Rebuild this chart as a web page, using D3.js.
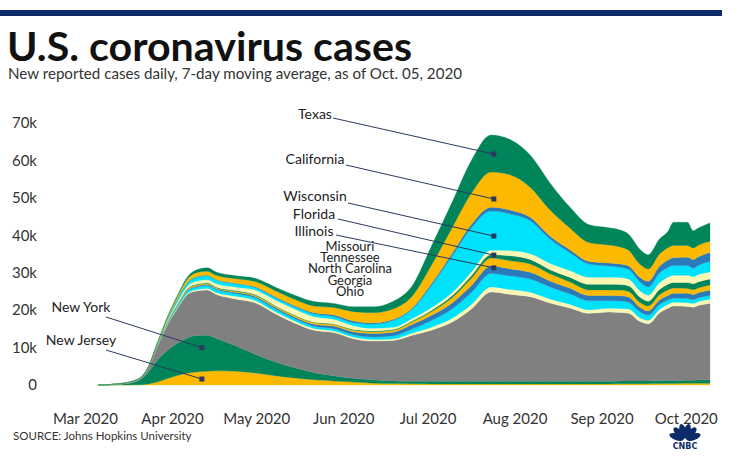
<!DOCTYPE html>
<html><head><meta charset="utf-8">
<script src="https://cdn.jsdelivr.net/npm/d3@7"></script>
<style>
body{margin:0;background:#fff;}
svg{display:block;font-family:Lato,"Open Sans",sans-serif;}
</style></head><body>
<svg id="chart" width="740" height="475"></svg>
<script>
// ---- data (7-day average of new cases, thousands) ----
const dates = ["2020-03-01","2020-03-08","2020-03-15","2020-03-19","2020-03-22","2020-03-26","2020-03-29","2020-04-02","2020-04-05","2020-04-09","2020-04-12","2020-04-19","2020-04-26","2020-05-03","2020-05-10","2020-05-17","2020-05-24","2020-05-31","2020-06-07","2020-06-14","2020-06-21","2020-06-28","2020-07-05","2020-07-12","2020-07-19","2020-07-26","2020-08-02","2020-08-09","2020-08-16","2020-08-23","2020-08-30","2020-09-03","2020-09-06","2020-09-10","2020-09-13","2020-09-17","2020-09-20","2020-09-22","2020-09-27","2020-09-29","2020-10-01","2020-10-05"];
const newJersey = [0,0,0.05,0.3,0.8,1.8,2.5,3.2,3.5,3.7,3.8,3.7,3.2,2.5,1.9,1.4,1.1,0.8,0.5,0.4,0.35,0.3,0.3,0.3,0.3,0.3,0.3,0.3,0.3,0.3,0.3,0.35,0.35,0.35,0.35,0.4,0.4,0.4,0.45,0.45,0.5,0.5];
const newYork = [0,0.1,0.95,3.2,5.7,7.6,8.5,9.4,9.7,9.6,8.7,6.8,5.0,3.7,2.7,1.9,1.4,1.0,0.9,0.7,0.65,0.7,0.7,0.7,0.7,0.7,0.7,0.7,0.7,0.7,0.7,0.75,0.75,0.75,0.75,0.75,0.8,0.8,0.85,0.85,0.85,0.9];
const otherStates = [0,0.13,0.32,1.11,3.54,7.13,9.1,11.7,11.9,12.1,11.75,12.5,13.75,12.9,11.95,11.3,11.5,10.55,10.35,10.8,12.3,13.7,15.75,19.3,23.85,23.2,22.6,20.9,19.6,18.15,18.5,18.25,18.1,15.9,15.25,18.1,19.3,19.9,19.7,19.5,19.95,20.4];
const ohio = [0,0,0.01,0.03,0.08,0.15,0.2,0.3,0.35,0.4,0.45,0.7,0.65,0.55,0.55,0.5,0.45,0.45,0.4,0.4,0.6,0.8,1.0,1.2,1.35,1.3,1.2,1.1,1.0,0.95,1.0,1.1,1.1,1.0,0.95,0.95,1.0,1.0,1.0,1.0,1.0,1.1];
const georgia = [0,0.01,0.02,0.03,0.1,0.25,0.4,0.6,0.7,0.8,0.8,0.75,0.7,0.7,0.65,0.6,0.6,0.65,0.7,0.8,1.1,1.8,2.5,3.2,3.6,3.6,3.5,3.2,2.8,2.4,2.0,2.0,1.8,1.6,1.4,1.3,1.2,1.1,1.1,1.0,1.0,1.0];
const northCarolina = [0,0,0.01,0.02,0.04,0.1,0.15,0.2,0.25,0.25,0.25,0.3,0.35,0.4,0.45,0.55,0.7,0.75,0.9,1.0,1.2,1.4,1.6,1.9,2.0,1.9,1.8,1.6,1.5,1.4,1.4,1.4,1.4,1.2,1.1,1.2,1.2,1.3,1.4,1.4,1.4,1.4];
const tennessee = [0,0,0.01,0.02,0.05,0.15,0.2,0.25,0.3,0.25,0.25,0.3,0.3,0.35,0.35,0.35,0.4,0.45,0.5,0.5,0.7,1.0,1.4,1.9,2.1,2.2,2.2,1.9,1.7,1.5,1.5,1.5,1.5,1.3,1.3,1.4,1.5,1.4,1.3,1.3,1.3,1.4];
const missouri = [0,0,0,0.01,0.03,0.06,0.12,0.2,0.2,0.2,0.2,0.2,0.2,0.15,0.15,0.15,0.15,0.2,0.2,0.2,0.25,0.35,0.5,0.7,0.9,1.3,1.2,1.1,1.2,1.5,1.5,1.5,1.5,1.4,1.3,1.4,1.5,1.5,1.6,1.6,1.6,1.6];
const illinois = [0,0.01,0.03,0.08,0.2,0.4,0.6,0.7,0.8,0.8,0.9,0.9,1.2,1.5,1.6,1.5,1.3,1.0,0.7,0.6,0.65,0.75,0.85,1.0,1.2,1.4,1.6,1.7,1.8,1.9,1.9,1.9,1.8,1.7,1.6,1.8,1.9,1.9,1.9,1.8,1.9,1.9];
const florida = [0,0.02,0.03,0.05,0.15,0.4,0.7,0.9,1.1,1.1,1.0,0.9,0.7,0.6,0.6,0.7,0.7,0.8,1.1,1.8,2.5,6.0,9.7,11.8,10.5,9.8,8.8,6.5,4.8,3.5,3.0,2.7,2.6,2.4,2.2,2.6,2.6,2.6,2.6,2.3,2.5,2.8];
const wisconsin = [0,0,0.01,0.02,0.03,0.06,0.08,0.1,0.1,0.1,0.1,0.15,0.2,0.3,0.3,0.35,0.4,0.45,0.35,0.3,0.3,0.5,0.7,0.9,1.0,1.0,0.9,0.8,0.8,0.7,0.8,0.85,0.9,1.2,1.5,1.8,2.0,2.1,2.2,2.3,2.3,2.4];
const california = [0,0.03,0.05,0.1,0.2,0.4,0.6,0.9,1.1,1.1,1.1,1.2,1.4,1.6,1.7,1.8,2.0,2.5,2.7,2.8,3.2,5.0,6.8,8.3,9.4,9.4,8.0,7.0,5.8,5.0,4.8,4.6,4.2,3.5,3.3,3.3,3.3,3.3,3.2,3.1,3.1,3.0];
const texas = [0,0,0.01,0.03,0.08,0.2,0.35,0.55,0.7,0.9,0.9,0.8,0.85,0.95,1.1,1.2,1.1,1.3,1.6,2.0,2.8,5.2,6.8,8.8,9.9,9.4,8.6,7.2,5.6,4.8,4.6,4.5,4.3,4.0,3.8,4.0,4.3,6.2,6.2,4.6,4.6,4.9];

const seriesNames = ["New Jersey","New York","Other","Ohio","Georgia","North Carolina","Tennessee","Missouri","Illinois","Florida","Wisconsin","California","Texas"];
const seriesData = [newJersey,newYork,otherStates,ohio,georgia,northCarolina,tennessee,missouri,illinois,florida,wisconsin,california,texas];
const yTicks = [0,10,20,30,40,50,60,70];
const monthTicks = ["2020-03-01","2020-04-01","2020-05-01","2020-06-01","2020-07-01","2020-08-01","2020-09-01","2020-10-01"];
const leftNotes = [{name:"New York",date:"2020-04-07",value:10.0},{name:"New Jersey",date:"2020-04-07",value:1.6}];
const rightNotes = [{name:"Texas",date:"2020-07-20",value:61.7},{name:"California",date:"2020-07-20",value:49.7},{name:"Wisconsin",date:"2020-07-20",value:39.8},{name:"Florida",date:"2020-07-20",value:34.7},{name:"Illinois",date:"2020-07-20",value:31.3}];
const plainNotes = ["Missouri","Tennessee","North Carolina","Georgia","Ohio"];

// ---- styles ----
const YEL="#fcb900", GRN="#00855a", GRY="#808080", LYE="#fdf7b6", CYN="#00e1fb", BLU="#2b7bba";
const colors = [YEL,GRN,GRY,LYE,CYN,BLU,YEL,GRN,LYE,CYN,BLU,YEL,GRN];
const NAVY="#2a3a5e";

const parse = d3.timeParse("%Y-%m-%d");
const rows = dates.map((d,i)=>{const r={date:parse(d)}; seriesNames.forEach((k,j)=>r[k]=seriesData[j][i]); return r;});

const svg = d3.select("#chart");
const x = d3.scaleTime().domain([parse("2020-03-01"),parse("2020-10-05")]).range([98,710]);
const y = d3.scaleLinear().domain([0,70]).range([385,123]);

// header
svg.append("rect").attr("x",0).attr("y",10).attr("width",722).attr("height",6).attr("fill","#0c2c69");
svg.append("text").attr("x",7).attr("y",61).attr("font-size",41).attr("font-weight",700).attr("fill","#111")
  .attr("textLength",405).attr("lengthAdjust","spacingAndGlyphs").text("U.S. coronavirus cases");
svg.append("text").attr("x",8).attr("y",79).attr("font-size",15).attr("fill","#333")
  .attr("textLength",454).attr("lengthAdjust","spacingAndGlyphs")
  .text("New reported cases daily, 7-day moving average, as of Oct. 05, 2020");

// stacked areas
const stack = d3.stack().keys(seriesNames);
const layers = stack(rows);
const area = d3.area().x(d=>x(d.data.date)).y0(d=>y(d[0])).y1(d=>y(d[1])).curve(d3.curveMonotoneX);
svg.append("g").selectAll("path").data(layers).join("path")
  .attr("d",area).attr("fill",(d,i)=>colors[i]).attr("stroke",(d,i)=>colors[i]).attr("stroke-width",0.3);

// axes
const yAxis = svg.append("g").attr("transform","translate(37,0)")
  .call(d3.axisLeft(y).tickValues(yTicks).tickSize(0).tickPadding(0).tickFormat(d=>d===0?"0":d+"k"));
yAxis.select(".domain").remove();
yAxis.selectAll("text").attr("font-size",15).attr("fill","#333").attr("font-family","Lato,sans-serif");

const xAxis = svg.append("g").attr("transform","translate(0,385)")
  .call(d3.axisBottom(x).tickValues(monthTicks.map(parse)).tickSize(0).tickPadding(28).tickFormat(d3.timeFormat("%b %Y")));
xAxis.select(".domain").remove();
xAxis.selectAll("text").attr("font-size",15).attr("fill","#333").attr("dx",-13).attr("font-family","Lato,sans-serif");

// annotations
const leftLayout = {"New York":[81,307,106,317],"New Jersey":[81,340,106,350]};
const rightLayout = {"Texas":[315,114,333,118],"California":[315,159,346,165],"Wisconsin":[315,196,348,203],"Florida":[314,214,338,219],"Illinois":[314,231,336,235]};
const ann = svg.append("g");
function note(n,lay){
  const px=x(parse(n.date)), py=y(n.value);
  ann.append("line").attr("x1",lay[2]).attr("y1",lay[3]).attr("x2",px).attr("y2",py).attr("stroke",NAVY).attr("stroke-width",1);
  ann.append("rect").attr("x",px-2.5).attr("y",py-2.5).attr("width",5).attr("height",5).attr("fill",NAVY);
  ann.append("text").attr("x",lay[0]).attr("y",lay[1]).attr("dy","0.35em").attr("text-anchor","middle")
    .attr("font-size",14).attr("fill","#222").text(n.name);
}
leftNotes.forEach(n=>note(n,leftLayout[n.name]));
rightNotes.forEach(n=>note(n,rightLayout[n.name]));
plainNotes.forEach((name,i)=>{
  ann.append("text").attr("x",350).attr("y",246+i*11.4).attr("dy","0.35em").attr("text-anchor","middle")
    .attr("font-size",13).attr("fill","#222").text(name);
});

// source
svg.append("text").attr("x",13).attr("y",440).attr("font-size",11.5).attr("fill","#333")
  .text("SOURCE: Johns Hopkins University");

// CNBC logo (simplified peacock)
const logo = svg.append("g").attr("transform","translate(685,440)").attr("fill","#0c2c69");
[-70,-42,-14,14,42,70].forEach(a=>{
  logo.append("ellipse").attr("cx",0).attr("cy",-8).attr("rx",3.3).attr("ry",7.5)
    .attr("transform",`rotate(${a}) translate(0,-1)`);
});
logo.append("text").attr("x",0).attr("y",9).attr("text-anchor","middle").attr("font-size",8)
  .attr("font-weight",900).attr("font-family","'DejaVu Sans',sans-serif").attr("fill","#0c2c69").text("CNBC");
</script>
</body></html>
